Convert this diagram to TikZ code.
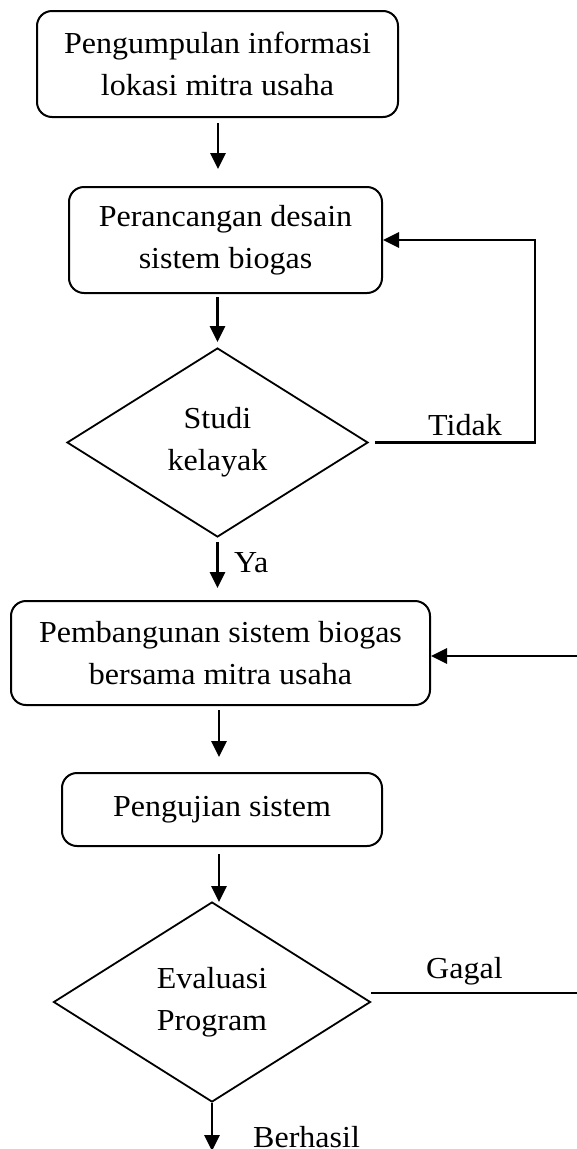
\documentclass[tikz,border=0pt]{standalone}
\usepackage{fontspec}
\setmainfont{Liberation Serif}[FakeStretch=1.05]
\usetikzlibrary{arrows.meta,shapes.geometric}
\begin{document}
\begin{tikzpicture}[x=1pt,y=-1pt, font=\fontsize{30.5}{42}\selectfont,
  box/.style={draw, line width=2pt, rounded corners=15pt, inner sep=0pt, align=center},
  dec/.style={draw, diamond, line width=1.8pt, inner sep=0pt, align=center, aspect=1.5},
  arr/.style={line width=2.8pt, -{Triangle[length=16pt,width=15pt]}},
  ln/.style={line width=2.8pt},
  lbl/.style={anchor=base west, inner sep=0pt}]
\useasboundingbox (0,0) rectangle (576,1149);
% nodes
\node[box, minimum width=361pt, minimum height=106pt] (b1) at (217.5,64) {Pengumpulan informasi\\lokasi mitra usaha};
\node[box, minimum width=313pt, minimum height=106pt] (b2) at (225.5,240) {Perancangan desain\\sistem biogas};
\node[dec, minimum width=301pt, minimum height=189pt] (d1) at (217.5,442.5) {Studi\\kelayak};
\node[box, minimum width=419pt, minimum height=104pt] (b3) at (220.5,653) {Pembangunan sistem biogas\\bersama mitra usaha};
\node[box, minimum width=320pt, minimum height=73pt] (b4) at (222,809.5) {Pengujian sistem};
\node[dec, minimum width=317pt, minimum height=200pt] (d2) at (212,1002) {Evaluasi\\Program};
% helper coordinates
\coordinate (tR) at (535,442.5);
\coordinate (g0) at (371,993);
\coordinate (gR) at (584,993);
\coordinate (gR2) at (584,656);
\coordinate (endB) at (212,1151);
% connectors
\draw[arr, shorten <=5pt, shorten >=18pt] (b1.south -| 218,0) -- (218,187);
\draw[arr, shorten <=3pt, shorten >=5pt] (b2.south -| d1.north) -- (d1.north);
\draw[arr, shorten <=4pt, shorten >=12pt] (d1.south) -- (d1.south |- b3.north);
\draw[arr, shorten <=4pt, shorten >=16pt] (b3.south -| 219,0) -- (219,773);
\draw[arr, shorten <=7pt] (b4.south -| 219,0) -- (219,902);
\draw[arr] (d2.south) -- (endB);
\draw[arr, shorten <=6pt] (d1.east) -- (tR) |- (b2.east);
\draw[ln] (g0) -- (gR);
\draw[arr] (gR) -- (gR2) -- (b3.east |- gR2);
% labels
\node[lbl] (lt) at (428,435) {Tidak};
\node[lbl] (ly) at (234,572) {Ya};
\node[lbl] (lg) at (426,978) {Gagal};
\node[lbl] (lb) at (253,1147) {Berhasil};
\end{tikzpicture}
\end{document}
